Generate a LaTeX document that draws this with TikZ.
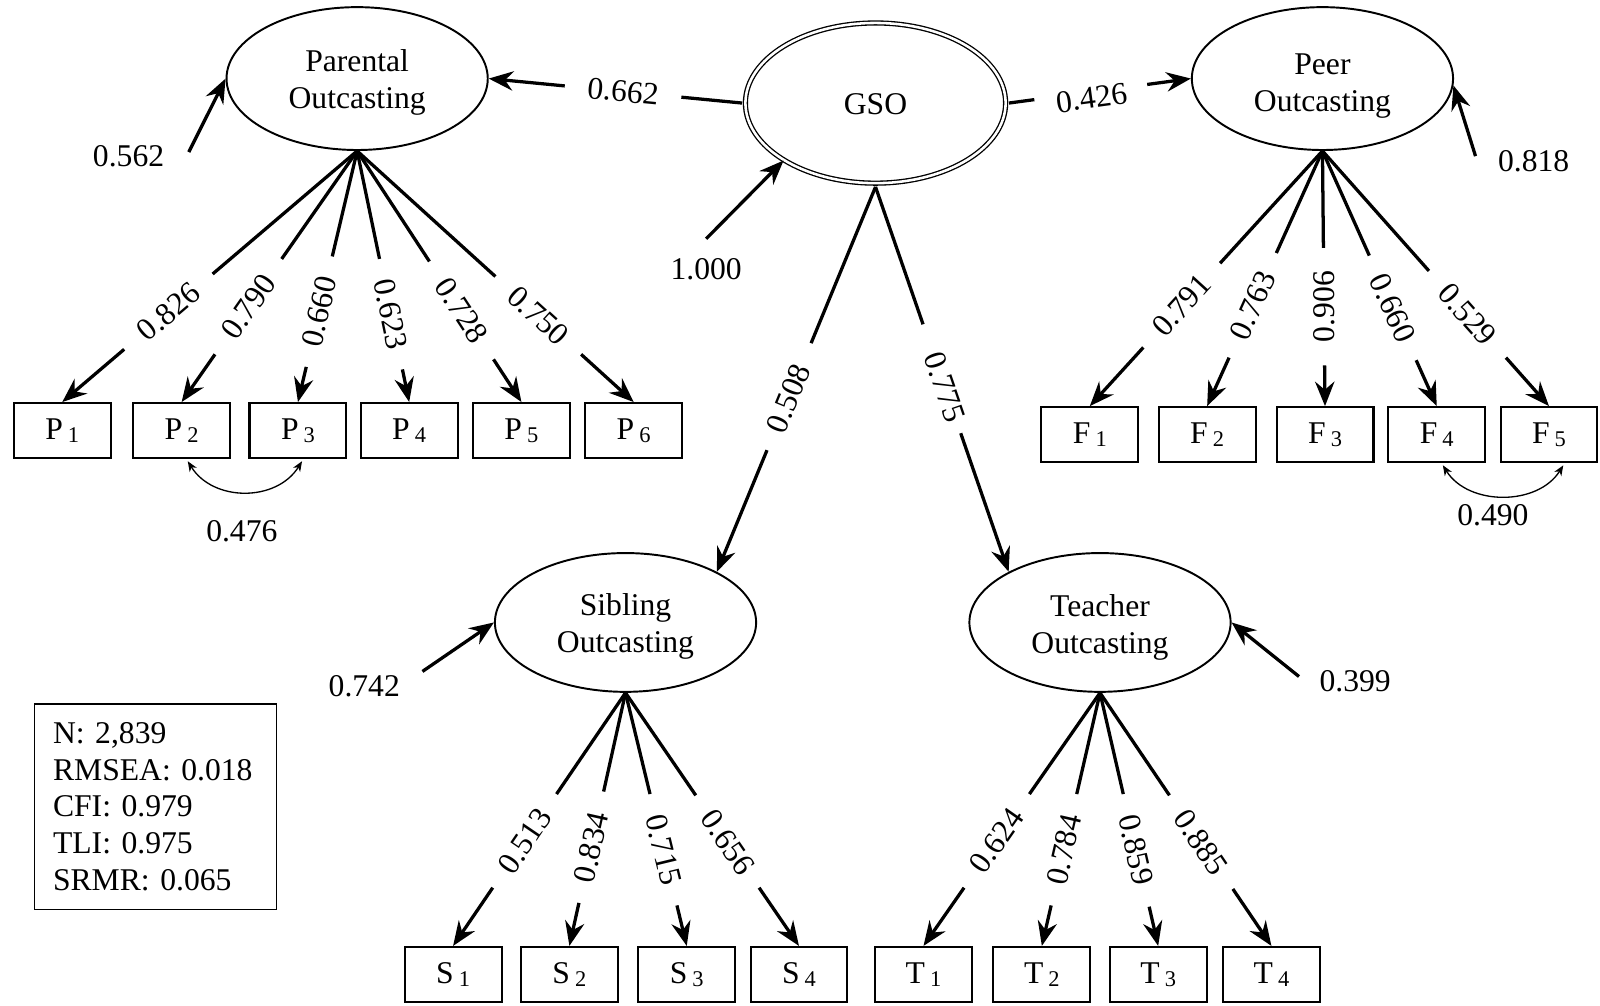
\documentclass[tikz,border=0pt]{standalone}
\usepackage{fontspec}
\setmainfont{Liberation Serif}
\usetikzlibrary{arrows.meta,calc,shapes.geometric}

% indicator name with a lowered index, e.g. P 1
\newcommand\idx[2]{#1\kern5pt\raisebox{-3pt}{\fontsize{22}{22}\selectfont #2}}

% loading path: solid start, gap holding the label, arrow into the target
% #1 source, #2 target, #3 end of first piece, #4 start of arrow piece,
% #5 label position, #6 label, #7 label options
\newcommand\loadpath[7]{%
  \draw[load] (#1) -- ($(#1)!#3!(#2)$);
  \draw[load,tipped] ($(#1)!#4!(#2)$) -- (#2);
  \path (#1) -- (#2) node[lab,pos=#5,#7] {#6};
}

\tikzset{
  every node/.style={font=\fontsize{31}{36}\selectfont},
  latent/.style={draw, ellipse, line width=1.9pt, inner sep=0pt,
                 minimum width=256pt, minimum height=140pt},
  lattext/.style={align=center, inner sep=0pt},
  obs/.style={draw, rectangle, line width=2pt, inner sep=0pt,
              minimum width=95pt, minimum height=54pt},
  load/.style={line width=3.2pt},
  tipped/.style={-{Stealth[length=24pt,width=19pt,inset=8pt]}},
  cov/.style={line width=1.3pt,
              {Stealth[length=10pt,width=8pt,inset=3pt]}-{Stealth[length=10pt,width=8pt,inset=3pt]}},
  lab/.style={inner sep=0pt},
}

\begin{document}
\begin{tikzpicture}[x=1pt,y=-1pt]
\useasboundingbox (0,0) rectangle (1568,985);

% latent factors
\node[latent] (par) at (350,77) {};
\node[latent, double, double distance=2.5pt, line width=1.3pt,
      minimum width=255pt, minimum height=157pt] (gso) at (858,101) {};
\node[latent] (peer) at (1296,77) {};
\node[latent, minimum height=136pt] (sib) at (613,610) {};
\node[latent, minimum height=136pt] (tea) at (1078,610) {};

\node[lattext] (parT) at ($(par)+(0,4)$) {Parental\\Outcasting};
\node[lattext] (gsoT) at ($(gso)+(0,1)$) {GSO};
\node[lattext] (peerT) at ($(peer)+(0,7)$) {Peer\\Outcasting};
\node[lattext] (sibT) at ($(sib)+(0,4)$) {Sibling\\Outcasting};
\node[lattext] (teaT) at ($(tea)+(0,5)$) {Teacher\\Outcasting};

% observed indicators
\node[obs] (p1) at (61,422) {\idx{P}{1}};
\node[obs] (p2) at (178,422) {\idx{P}{2}};
\node[obs] (p3) at (292,422) {\idx{P}{3}};
\node[obs] (p4) at (401,422) {\idx{P}{4}};
\node[obs] (p5) at (511,422) {\idx{P}{5}};
\node[obs] (p6) at (621,422) {\idx{P}{6}};

\node[obs] (f1) at (1068,426) {\idx{F}{1}};
\node[obs] (f2) at (1183,426) {\idx{F}{2}};
\node[obs] (f3) at (1298.5,426) {\idx{F}{3}};
\node[obs] (f4) at (1408,426) {\idx{F}{4}};
\node[obs] (f5) at (1518,426) {\idx{F}{5}};

\node[obs] (s1) at (444,955) {\idx{S}{1}};
\node[obs] (s2) at (558,955) {\idx{S}{2}};
\node[obs] (s3) at (673,955) {\idx{S}{3}};
\node[obs] (s4) at (783,955) {\idx{S}{4}};

\node[obs] (t1) at (905,955) {\idx{T}{1}};
\node[obs] (t2) at (1021,955) {\idx{T}{2}};
\node[obs] (t3) at (1135,955) {\idx{T}{3}};
\node[obs] (t4) at (1246,955) {\idx{T}{4}};

% fit indices
\node[draw, line width=1.3pt, minimum width=237pt, minimum height=201pt,
      text width=201pt, inner xsep=18pt, align=left] (fit) at (152.5,790.5)
  {N: 2,839\\RMSEA: 0.018\\CFI: 0.979\\TLI: 0.975\\SRMR: 0.065};

% outer edge points of the double ellipse
\coordinate (gsoS) at ($(gso.south)+(0,3)$);
\coordinate (gsoW) at ($(gso.west)+(-2.5,0)$);
\coordinate (gsoE) at ($(gso.east)+(2.5,0)$);

% second-order paths
\loadpath{gsoW}{par.east}{0.24}{0.70}{0.47}{0.662}{sloped}
\loadpath{gsoE}{peer.west}{0.14}{0.76}{0.45}{0.426}{sloped,yshift=-6pt}
\loadpath{gsoS}{sib.29}{0.406}{0.684}{0.55}{0.508}{sloped}
\loadpath{gsoS}{tea.151}{0.357}{0.64}{0.52}{0.775}{sloped}

% parental loadings
\loadpath{par.south}{p1.north}{0.49}{0.79}{0.64}{0.826}{sloped}
\loadpath{par.south}{p2.north}{0.43}{0.81}{0.62}{0.790}{sloped}
\loadpath{par.south}{p3.north}{0.42}{0.86}{0.64}{0.660}{sloped}
\loadpath{par.south}{p4.north}{0.43}{0.87}{0.65}{0.623}{sloped}
\loadpath{par.south}{p5.north}{0.44}{0.83}{0.635}{0.728}{sloped}
\loadpath{par.south}{p6.north}{0.50}{0.81}{0.655}{0.750}{sloped}

% peer loadings
\loadpath{peer.south}{f1.north}{0.44}{0.77}{0.605}{0.791}{sloped}
\loadpath{peer.south}{f2.north}{0.40}{0.81}{0.605}{0.763}{sloped}
\loadpath{peer.south}{f3.north}{0.38}{0.84}{0.61}{0.906}{rotate=90}
\loadpath{peer.south}{f4.north}{0.41}{0.82}{0.615}{0.660}{sloped}
\loadpath{peer.south}{f5.north}{0.47}{0.81}{0.64}{0.529}{sloped}

% sibling loadings
\loadpath{sib.south}{s1.north}{0.40}{0.77}{0.585}{0.513}{sloped}
\loadpath{sib.south}{s2.north}{0.39}{0.83}{0.61}{0.834}{sloped}
\loadpath{sib.south}{s3.north}{0.40}{0.84}{0.62}{0.715}{sloped}
\loadpath{sib.south}{s4.north}{0.405}{0.77}{0.59}{0.656}{sloped}

% teacher loadings
\loadpath{tea.south}{t1.north}{0.40}{0.77}{0.585}{0.624}{sloped}
\loadpath{tea.south}{t2.north}{0.40}{0.84}{0.62}{0.784}{sloped}
\loadpath{tea.south}{t3.north}{0.40}{0.845}{0.62}{0.859}{sloped}
\loadpath{tea.south}{t4.north}{0.405}{0.775}{0.59}{0.885}{sloped}

% residual terms
\coordinate (r1) at (185,149);
\coordinate (r2) at (692,234);
\coordinate (r3) at (1446,153);
\coordinate (r4) at (414,658);
\coordinate (r5) at (1273,663);
\draw[load,tipped] (r1) -- (par.west);
\draw[load,tipped] (r2) -- (gso.212);
\draw[load,tipped] (r3) -- (peer.-3);
\draw[load,tipped] (r4) -- (sib.west);
\draw[load,tipped] (r5) -- (tea.east);
\node (e1) at (126,153) {0.562};
\node (e2) at (692,264) {1.000};
\node (e3) at (1503,158) {0.818};
\node (e4) at (357,672) {0.742};
\node (e5) at (1328,668) {0.399};

% residual covariances
\draw[cov] ($(p2.south)+(6,2)$) .. controls ($(p2.south)+(31,42)$) and ($(p3.south)+(-21,42)$) .. ($(p3.south)+(4,2)$);
\draw[cov] ($(f4.south)+(6,2)$) .. controls ($(f4.south)+(31,42)$) and ($(f5.south)+(-11,42)$) .. ($(f5.south)+(14,2)$);
\node (c1) at (237,521) {0.476};
\node (c2) at (1463,505) {0.490};
\end{tikzpicture}
\end{document}
